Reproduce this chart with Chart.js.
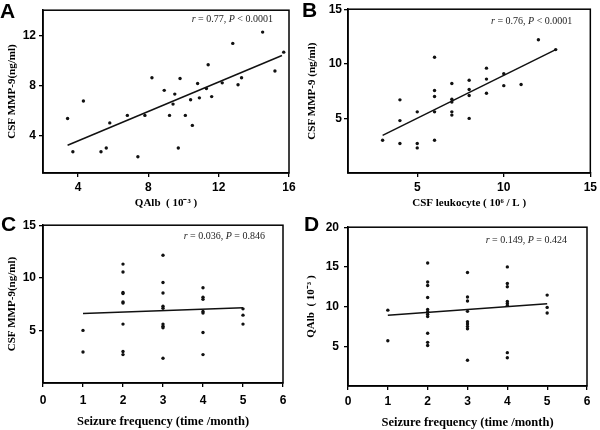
<!DOCTYPE html>
<html>
<head>
<meta charset="utf-8">
<script src="https://cdn.jsdelivr.net/npm/chart.js@4"></script>
<style>
  html, body { margin: 0; padding: 0; background: #fff; }
  #wrap { position: relative; width: 600px; height: 430px; }
  canvas { position: absolute; }
</style>
</head>
<body>
<div id="wrap">
  <canvas id="chartA" width="300" height="215" style="left:0;top:0"></canvas>
  <canvas id="chartB" width="300" height="215" style="left:300px;top:0"></canvas>
  <canvas id="chartC" width="300" height="215" style="left:0;top:215px"></canvas>
  <canvas id="chartD" width="300" height="215" style="left:300px;top:215px"></canvas>
</div>
<script>
// A: QAlb vs CSF MMP-9
const qalbA = [3.4, 3.7, 4.3, 5.3, 5.6, 5.8, 6.8, 7.4, 7.8, 8.2, 8.9, 9.2, 9.4, 9.5, 9.7, 9.8,
  10.1, 10.4, 10.5, 10.8, 10.9, 11.3, 11.4, 11.6, 12.2, 12.8, 13.1, 13.3, 14.5, 15.2, 15.7];
const mmpA = [5.35, 2.7, 6.75, 2.7, 3.0, 5.0, 5.6, 2.3, 5.6, 8.6, 7.6, 5.6, 6.5, 7.3, 3.0, 8.55,
  5.6, 6.85, 4.8, 8.15, 7.0, 7.75, 9.65, 7.1, 8.2, 11.35, 8.05, 8.6, 12.25, 9.15, 10.65];
const fitXA = [3.4, 15.6];
const fitYA = [3.22, 10.38];
const statsA = ['0.77', '<', '0.0001'];
const xTicksA = [4, 8, 12, 16];
const yTicksA = [4, 8, 12];

// B: CSF leukocyte vs CSF MMP-9
const leukB = [3, 4, 4, 4, 5, 5, 5, 6, 6, 6, 6, 6, 7, 7, 7, 7, 7, 8, 8, 8, 8, 9, 9, 9, 10, 10, 11, 12, 13];
const mmpB = [3.0, 6.7, 4.8, 2.7, 5.6, 2.7, 2.3, 10.6, 7.55, 7.0, 5.6, 3.0, 8.2, 6.75, 6.5, 5.6, 5.3,
  8.5, 7.65, 7.1, 5.0, 9.6, 8.6, 7.3, 9.1, 8.0, 8.1, 12.2, 11.3];
const fitXB = [3, 13];
const fitYB = [3.45, 11.3];
const statsB = ['0.76', '<', '0.0001'];
const xTicksB = [5, 10, 15];
const yTicksB = [5, 10, 15];

// C: seizure frequency vs CSF MMP-9
const freqC = [1, 1, 2, 2, 2, 2, 2, 2, 2, 2, 2, 3, 3, 3, 3, 3, 3, 3, 3, 3, 4, 4, 4, 4, 4, 4, 4, 5, 5, 5];
const mmpC = [5.0, 2.95, 11.3, 10.55, 8.6, 8.5, 7.7, 7.6, 5.6, 3.0, 2.7, 12.15, 9.55, 8.55, 7.3, 7.1,
  5.6, 5.4, 5.25, 2.35, 9.05, 8.15, 7.95, 6.8, 6.65, 4.8, 2.7, 7.05, 6.45, 5.6];
const fitXC = [1, 5];
const fitYC = [6.6, 7.15];
const statsC = ['0.036', '=', '0.846'];
const xTicksC = [0, 1, 2, 3, 4, 5, 6];
const yTicksC = [5, 10, 15];

// D: seizure frequency vs QAlb
const freqD = [1, 1, 2, 2, 2, 2, 2, 2, 2, 2, 2, 2, 2, 3, 3, 3, 3, 3, 3, 3, 3, 3,
  4, 4, 4, 4, 4, 4, 4, 4, 5, 5, 5];
const qalbD = [9.55, 5.7, 15.5, 13.1, 12.65, 11.15, 9.65, 9.35, 9.05, 8.75, 6.65, 5.5, 5.1,
  14.3, 11.2, 10.7, 9.4, 8.1, 7.8, 7.5, 7.2, 3.25,
  15.0, 12.9, 12.5, 10.65, 10.4, 10.15, 4.2, 3.55, 11.45, 9.9, 9.2];
const fitXD = [1, 5];
const fitYD = [8.9, 10.35];
const statsD = ['0.149', '=', '0.424'];
const xTicksD = [0, 1, 2, 3, 4, 5, 6];
const yTicksD = [5, 10, 15, 20];

const tickFont = { family: '"Liberation Sans", Arial, sans-serif', size: 12, weight: 'bold' };
const serifFamily = '"Liberation Serif", "Times New Roman", serif';

// frame, panel letter and r / P text
const panelDeco = {
  id: 'panelDeco',
  afterDraw(chart, args, o) {
    const ctx = chart.ctx, a = chart.chartArea;
    ctx.save();
    ctx.strokeStyle = '#000';
    ctx.lineWidth = 1.5;
    ctx.strokeRect(a.left, a.top, a.right - a.left, a.bottom - a.top);

    ctx.fillStyle = '#000';
    ctx.font = 'bold 21px "Liberation Sans", Arial, sans-serif';
    ctx.textBaseline = 'alphabetic';
    ctx.textAlign = 'left';
    ctx.fillText(o.letter, o.lx, o.ly);

    const serif = '10px ' + serifFamily;
    const parts = [
      ['italic ' + serif, 'r'],
      [serif, ' = ' + o.stats[0] + ', '],
      ['italic ' + serif, 'P'],
      [serif, ' ' + o.stats[1] + ' ' + o.stats[2]]
    ];
    let w = 0;
    parts.forEach(p => { ctx.font = p[0]; w += ctx.measureText(p[1]).width; });
    let x = a.right - o.dx - w;
    ctx.fillStyle = '#222';
    ctx.textBaseline = 'middle';
    parts.forEach(p => {
      ctx.font = p[0];
      ctx.fillText(p[1], x, a.top + o.dy);
      x += ctx.measureText(p[1]).width;
    });
    ctx.restore();
  }
};

function axis(min, max, ticks, title, size, pad, tpad, fsize) {
  return {
    type: 'linear',
    min: min,
    max: max,
    afterBuildTicks: s => { s.ticks = ticks.map(v => ({ value: v })); },
    afterFit: s => { if (s.isHorizontal()) s.height = size; else s.width = size; },
    grid: { display: true, drawOnChartArea: false, drawTicks: true, tickLength: 4, color: '#000', lineWidth: 1.3 },
    border: { display: true, color: '#000', width: 1.5 },
    ticks: { color: '#000', font: tickFont, padding: pad, maxRotation: 0 },
    title: {
      display: true, text: title, color: '#000',
      font: { family: serifFamily, size: fsize || 11, weight: 'bold' },
      padding: { top: tpad, bottom: tpad }
    }
  };
}

function panel(id, xs, ys, fx, fy, box, x, y, deco) {
  new Chart(document.getElementById(id), {
    type: 'scatter',
    data: {
      datasets: [
        {
          data: xs.map((v, i) => ({ x: v, y: ys[i] })),
          pointRadius: 1.7,
          pointBackgroundColor: '#111',
          pointBorderWidth: 0
        },
        {
          data: fx.map((v, i) => ({ x: v, y: fy[i] })),
          showLine: true,
          borderColor: '#111',
          borderWidth: 1.5,
          pointRadius: 0
        }
      ]
    },
    options: {
      responsive: false,
      animation: false,
      layout: { padding: { left: 0, top: box.top, right: 300 - box.right, bottom: 0 } },
      plugins: { legend: { display: false }, tooltip: { enabled: false }, panelDeco: deco },
      scales: {
        x: Object.assign(axis(x.min, x.max, x.ticks, x.title, 215 - box.bottom, x.pad, x.tpad, x.fsize), { position: 'bottom' }),
        y: Object.assign(axis(y.min, y.max, y.ticks, y.title, box.left, y.pad, y.tpad, y.fsize), { position: 'left' })
      }
    },
    plugins: [panelDeco]
  });
}

panel('chartA', qalbA, mmpA, fitXA, fitYA,
  { left: 43, top: 8, right: 289, bottom: 173 },
  { min: 2, max: 16, ticks: xTicksA, title: 'QAlb  ( 10⁻³ )', pad: 3, tpad: 5 },
  { min: 1, max: 14, ticks: yTicksA, title: 'CSF MMP-9(ng/ml)', pad: 3, tpad: 6 },
  { letter: 'A', lx: 0, ly: 18, stats: statsA, dx: 16, dy: 9 });

panel('chartB', leukB, mmpB, fitXB, fitYB,
  { left: 48, top: 8, right: 293, bottom: 173 },
  { min: 1, max: 15, ticks: xTicksB, title: 'CSF leukocyte ( 10⁶ / L )', pad: 3, tpad: 5 },
  { min: 0, max: 15, ticks: yTicksB, title: 'CSF MMP-9 (ng/ml)', pad: 2, tpad: 6 },
  { letter: 'B', lx: 2, ly: 17, stats: statsB, dx: 18, dy: 12 });

panel('chartC', freqC, mmpC, fitXC, fitYC,
  { left: 43, top: 10, right: 283, bottom: 168 },
  { min: 0, max: 6, ticks: xTicksC, title: 'Seizure frequency (time /month)', pad: 6, tpad: 1, fsize: 12.5 },
  { min: 0, max: 15, ticks: yTicksC, title: 'CSF MMP-9(ng/ml)', pad: 3, tpad: 6 },
  { letter: 'C', lx: 1, ly: 16, stats: statsC, dx: 18, dy: 11 });

panel('chartD', freqD, qalbD, fitXD, fitYD,
  { left: 48, top: 11, right: 287, bottom: 171 },
  { min: 0, max: 6, ticks: xTicksD, title: 'Seizure frequency (time /month)', pad: 4, tpad: 0, fsize: 12.5 },
  { min: 0, max: 20, ticks: yTicksD, title: 'QAlb  ( 10⁻³ )', pad: 5, tpad: 5 },
  { letter: 'D', lx: 4, ly: 16, stats: statsD, dx: 20, dy: 13 });
</script>
</body>
</html>
